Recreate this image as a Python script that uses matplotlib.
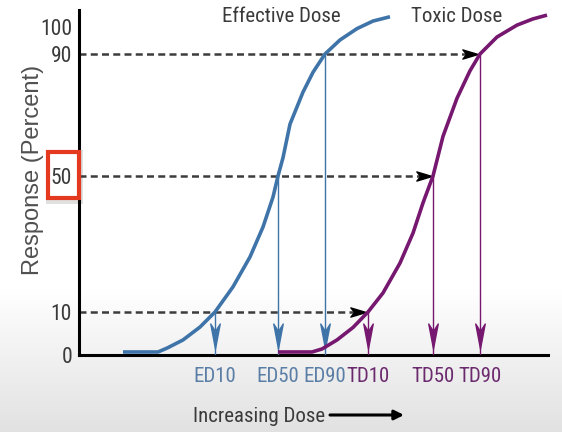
import numpy as np
import matplotlib
matplotlib.use("Agg")
import matplotlib.pyplot as plt
from matplotlib.path import Path
from matplotlib.patches import Rectangle

# ---------------- data ----------------
ed_dose = [11, 19.75, 22, 26, 30.25, 34, 38.5, 42.75, 46, 48.5, 49.75, 51,
           52.75, 56, 58.5, 61.5, 65.25, 69.5, 73.5, 77.75]
ed_resp = [0.7, 0.7, 1.6, 3.5, 6.5, 10, 17.4, 26.2, 35.0, 43.8, 50, 56,
           67, 77.5, 84, 90, 95.2, 99.4, 102.2, 103.8]

td_dose = [49.75, 58.25, 60.75, 64.5, 68.5, 72.25, 76, 80.25, 83.5, 86, 88.5, 91,
           94.5, 97.75, 100.25, 104.5, 109.5, 113.5, 117]
td_resp = [0.7, 0.7, 1.4, 3.5, 6.4, 10, 15.6, 24.4, 33.2, 42.1, 50, 63,
           75.5, 84.5, 90, 96.3, 100.7, 103.0, 104.4]

levels = [10, 50, 90]
ed_points = [34, 49.75, 61.5]          # ED10, ED50, ED90
td_points = [72.25, 88.5, 100.25]      # TD10, TD50, TD90
ed_labels = ["ED10", "ED50", "ED90"]
td_labels = ["TD10", "TD50", "TD90"]
dash_ends = [71.5, 88, 99.5]           # dashed guide lines end near toxic curve

yticks = [0, 10, 50, 90, 100]
ytick_labels = ["0", "10", "50", "90", "100"]

# ---------------- styling ----------------
BLUE = "#3f74a9"
PURPLE = "#76186f"
BLUE_TXT = "#5a7ea6"
PURPLE_TXT = "#6c2a6e"
GRAY_TXT = "#3a3a3a"
FONT = ["Roboto Condensed", "Archivo Narrow", "Liberation Sans", "DejaVu Sans"]
plt.rcParams["font.family"] = FONT

W, H = 562, 432
fig = plt.figure(figsize=(W / 100, H / 100), dpi=100)
fig.patch.set_facecolor("white")

# subtle grey gradient at the bottom (screenshot vignette)
bg = fig.add_axes([0, 0, 1, 1], zorder=-2)
rows = np.linspace(0, 1, 432)[:, None]
start = 290 / 432
t = np.clip((rows - start) / (1 - start), 0, 1)
shade = 1 - 0.115 * t
img = np.dstack([shade, shade, shade]) * np.ones((1, 4, 1))
bg.imshow(img, aspect="auto", extent=[0, 1, 1, 0])
bg.set_xlim(0, 1); bg.set_ylim(1, 0)
bg.axis("off")

# red highlight box around "50" (its frame covers the y axis line)
shadow = Rectangle((46 / W, 1 - 204 / H), 37 / W, 54 / H, transform=fig.transFigure,
                   facecolor="#d4d4d4", edgecolor="none", alpha=0.7, zorder=-1.6)
inner = Rectangle((47.5 / W, 1 - 198 / H), 31 / W, 46 / H, transform=fig.transFigure,
                  facecolor="white", edgecolor="none", zorder=-1.4)
box = Rectangle((47.5 / W, 1 - 198 / H), 31 / W, 46 / H, transform=fig.transFigure,
                facecolor="none", edgecolor="#e4381f", linewidth=3.0, zorder=10)
fig.patches.extend([shadow, inner, box])

ax = fig.add_axes([79 / W, 1 - 355 / H, (548 - 79) / W, (355 - 10) / H])
ax.set_facecolor("none")

# piecewise-linear response scale (the picture's tick spacing is uneven)
VB = np.array([-30, 0, 10, 50, 90, 100, 140], dtype=float)
HB = np.array([-129, 0, 43, 179, 301, 328, 436], dtype=float)
def fwd(v):
    return np.interp(v, VB, HB)
def inv(h):
    return np.interp(h, HB, VB)
ax.set_yscale("function", functions=(fwd, inv))
ax.set_ylim(0, inv(345))
ax.set_xlim(0, 117.25)

for s in ["top", "right"]:
    ax.spines[s].set_visible(False)
for s in ["left", "bottom"]:
    ax.spines[s].set_linewidth(2.2)
    ax.spines[s].set_color("black")

ax.set_yticks(yticks)
ax.set_yticklabels(ytick_labels)
ax.yaxis.set_minor_locator(matplotlib.ticker.NullLocator())
ax.tick_params(axis="y", length=0, pad=5, labelsize=15.5, labelcolor=GRAY_TXT)

xt = ed_points + td_points
ax.set_xticks(xt)
ax.set_xticklabels(ed_labels + td_labels)
ax.tick_params(axis="x", length=0, pad=9, labelsize=15)
for lbl, c in zip(ax.get_xticklabels(), [BLUE_TXT] * 3 + [PURPLE_TXT] * 3):
    lbl.set_color(c)

# dashed guide lines with arrowheads
arrow_right = Path([(1, 0), (-1, 0.6), (-0.5, 0), (-1, -0.6), (1, 0)],
                   [Path.MOVETO, Path.LINETO, Path.LINETO, Path.LINETO, Path.CLOSEPOLY])
for lv, xe in zip(levels, dash_ends):
    ax.plot([0, xe - 2.2], [lv, lv], color="#3c3c3c", lw=1.8,
            dashes=(2.8, 1.7), zorder=2, clip_on=False)
    ax.plot([xe - 1.8], [lv], marker=arrow_right, markersize=11, color="black",
            zorder=4, clip_on=False)

# vertical drop lines with barbed arrowheads
arrow_down = Path([(0, -1), (-0.38, 1), (0, 0.4), (0.38, 1), (0, -1)],
                  [Path.MOVETO, Path.LINETO, Path.LINETO, Path.LINETO, Path.CLOSEPOLY])
HEAD_Y = inv(19)
for pts, col in [(ed_points, BLUE), (td_points, PURPLE)]:
    for xp, lv in zip(pts, levels):
        ax.plot([xp, xp], [lv, 0], color=col, lw=1.0, zorder=3)
        ax.plot([xp], [HEAD_Y], marker=arrow_down, markersize=18, color=col,
                zorder=3)

# dose-response curves
ax.plot(ed_dose, ed_resp, color=BLUE, lw=2.6, zorder=5, clip_on=False,
        solid_capstyle="butt", solid_joinstyle="round")
ax.plot(td_dose, td_resp, color=PURPLE, lw=2.6, zorder=5, clip_on=False,
        solid_capstyle="butt", solid_joinstyle="round")

# texts
fig.text(281 / W, 1 - 17 / H, "Effective Dose", ha="center", va="center",
         fontsize=15, color=GRAY_TXT)
fig.text(457 / W, 1 - 17 / H, "Toxic Dose", ha="center", va="center",
         fontsize=15, color=GRAY_TXT)
fig.text(33 / W, 1 - 170 / H, "Response (Percent)", rotation=90, ha="center",
         va="center", fontsize=17, color="#505050",
         family=["Liberation Sans", "DejaVu Sans"])
fig.text(259 / W, 1 - 416 / H, "Increasing Dose", ha="center", va="center",
         fontsize=15, color=GRAY_TXT)
ax.annotate("", xy=(404 / W, 1 - 415 / H), xytext=(330 / W, 1 - 415 / H),
            xycoords="figure fraction", textcoords="figure fraction",
            arrowprops=dict(arrowstyle="-|>", color="black", lw=2.2,
                            mutation_scale=14, shrinkA=0, shrinkB=0))

fig.savefig("out.png", dpi=100)
